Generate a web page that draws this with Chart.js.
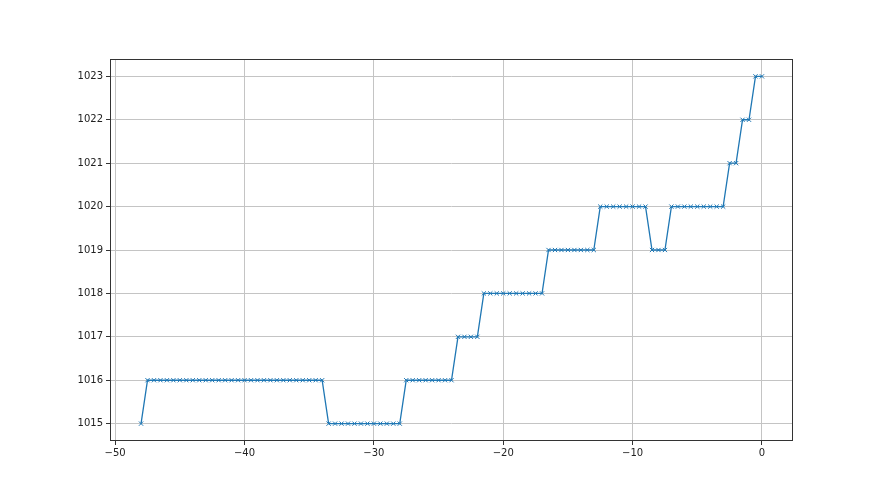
<!DOCTYPE html>
<html>
<head>
<meta charset="utf-8">
<script src="https://cdn.jsdelivr.net/npm/chart.js@4"></script>
<style>
  html, body { margin: 0; padding: 0; background: #ffffff; }
  #chart { display: block; }
</style>
</head>
<body>
<canvas id="chart" width="880" height="495"></canvas>
<script>
// x positions of the readings (hours)
const hours = [
  -48, -47.5, -47, -46.5, -46, -45.5, -45, -44.5, -44, -43.5,
  -43, -42.5, -42, -41.5, -41, -40.5, -40, -39.5, -39, -38.5,
  -38, -37.5, -37, -36.5, -36, -35.5, -35, -34.5, -34, -33.5,
  -33, -32.5, -32, -31.5, -31, -30.5, -30, -29.5, -29, -28.5,
  -28, -27.5, -27, -26.5, -26, -25.5, -25, -24.5, -24, -23.5,
  -23, -22.5, -22, -21.5, -21, -20.5, -20, -19.5, -19, -18.5,
  -18, -17.5, -17, -16.5, -16, -15.5, -15, -14.5, -14, -13.5,
  -13, -12.5, -12, -11.5, -11, -10.5, -10, -9.5, -9, -8.5,
  -8, -7.5, -7, -6.5, -6, -5.5, -5, -4.5, -4, -3.5,
  -3, -2.5, -2, -1.5, -1, -0.5, 0
];

// pressure readings
const pressure = [
  1015, 1016, 1016, 1016, 1016, 1016, 1016, 1016, 1016, 1016,
  1016, 1016, 1016, 1016, 1016, 1016, 1016, 1016, 1016, 1016,
  1016, 1016, 1016, 1016, 1016, 1016, 1016, 1016, 1016, 1015,
  1015, 1015, 1015, 1015, 1015, 1015, 1015, 1015, 1015, 1015,
  1015, 1016, 1016, 1016, 1016, 1016, 1016, 1016, 1016, 1017,
  1017, 1017, 1017, 1018, 1018, 1018, 1018, 1018, 1018, 1018,
  1018, 1018, 1018, 1019, 1019, 1019, 1019, 1019, 1019, 1019,
  1019, 1020, 1020, 1020, 1020, 1020, 1020, 1020, 1020, 1019,
  1019, 1019, 1020, 1020, 1020, 1020, 1020, 1020, 1020, 1020,
  1020, 1021, 1021, 1022, 1022, 1023, 1023
];

const xTicks = [-50, -40, -30, -20, -10, 0];
const yTicks = [1015, 1016, 1017, 1018, 1019, 1020, 1021, 1022, 1023];

function fmt(v) {
  return v < 0 ? '\u2212' + Math.abs(v) : String(v);
}

// matplotlib style box around the plot area
const frame = {
  id: 'frame',
  afterDraw(chart) {
    const a = chart.chartArea;
    const ctx = chart.ctx;
    ctx.save();
    ctx.strokeStyle = '#333333';
    ctx.lineWidth = 1;
    ctx.strokeRect(a.left + 0.5, a.top + 0.5, a.right - a.left - 1, a.bottom - a.top - 1);
    ctx.restore();
  }
};

const points = hours.map((h, i) => ({ x: h, y: pressure[i] }));

new Chart(document.getElementById('chart').getContext('2d'), {
  type: 'line',
  data: {
    datasets: [{
      data: points,
      borderColor: '#1f77b4',
      borderWidth: 1.3,
      pointStyle: 'crossRot',
      pointRadius: 3,
      pointBorderColor: '#1f77b4',
      pointBorderWidth: 1,
      pointHoverRadius: 3,
      tension: 0,
      fill: false
    }]
  },
  options: {
    responsive: false,
    animation: false,
    events: [],
    layout: { padding: { left: 60, right: 87, top: 59, bottom: 24 } },
    plugins: { legend: { display: false }, tooltip: { enabled: false } },
    scales: {
      x: {
        type: 'linear',
        min: -50.4,
        max: 2.4,
        afterFit: s => { s.height = 30; },
        afterBuildTicks: s => { s.ticks = xTicks.map(v => ({ value: v })); },
        ticks: {
          includeBounds: false,
          color: '#222222',
          font: { family: 'DejaVu Sans', size: 10 },
          padding: 2,
          maxRotation: 0,
          callback: v => fmt(v)
        },
        grid: { color: '#c4c4c4', lineWidth: 1, tickColor: '#333333', tickLength: 4 },
        border: { display: false }
      },
      y: {
        type: 'linear',
        min: 1014.6,
        max: 1023.4,
        afterFit: s => { s.width = 50; },
        afterBuildTicks: s => { s.ticks = yTicks.map(v => ({ value: v })); },
        ticks: {
          includeBounds: false,
          color: '#222222',
          font: { family: 'DejaVu Sans', size: 10 },
          padding: 3,
          callback: v => fmt(v)
        },
        grid: { color: '#c4c4c4', lineWidth: 1, tickColor: '#333333', tickLength: 4 },
        border: { display: false }
      }
    }
  },
  plugins: [frame]
});
</script>
</body>
</html>
